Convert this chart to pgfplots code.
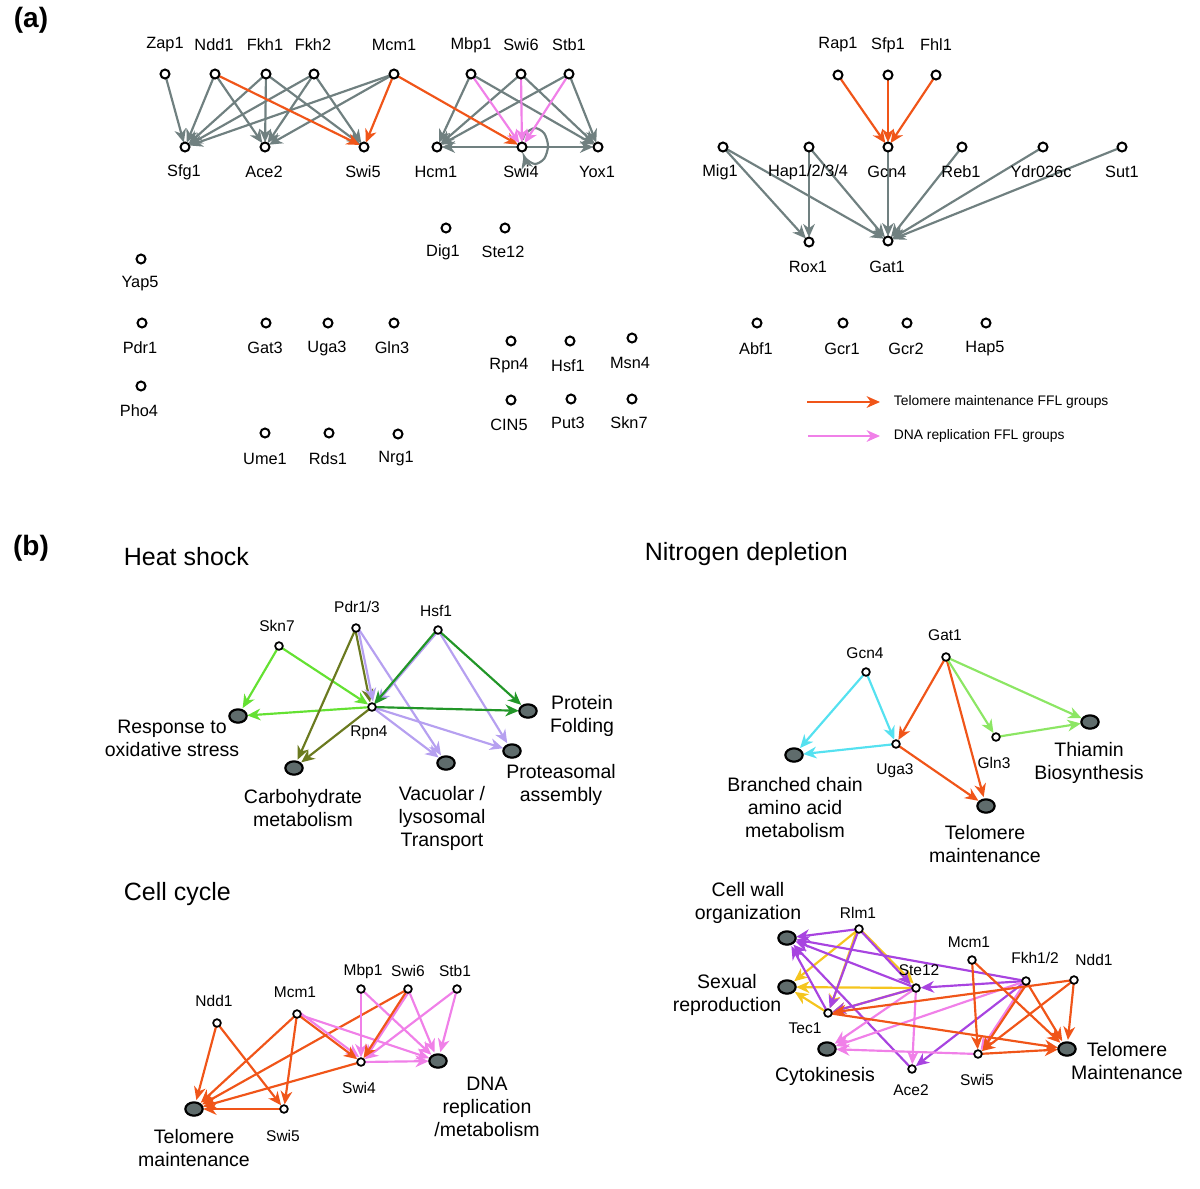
\documentclass[border=0pt]{standalone}
\usepackage{pgfplots}
\pgfplotsset{compat=1.18}
\usepackage{fontspec}
\setmainfont{Liberation Sans}
\usetikzlibrary{arrows.meta}
\definecolor{cG}{RGB}{112,128,128}
\definecolor{cO}{RGB}{240,85,25}
\definecolor{cP}{RGB}{240,128,232}
\definecolor{cLG}{RGB}{100,225,50}
\definecolor{cOL}{RGB}{107,122,32}
\definecolor{cLV}{RGB}{182,160,240}
\definecolor{cDG}{RGB}{34,150,40}
\definecolor{cCY}{RGB}{85,225,240}
\definecolor{cNG}{RGB}{140,230,100}
\definecolor{cPU}{RGB}{168,68,224}
\definecolor{cYE}{RGB}{245,197,30}
\definecolor{cTerm}{RGB}{95,108,108}
\pgfplotsset{ed/.style={line width=1.3pt,-{Stealth[length=8pt,width=7pt,inset=2.5pt]},shorten >=2.8pt,shorten <=1pt,mark=none}}
\newcommand{\E}[5]{\addplot[ed,#1] coordinates {(#2,#3) (#4,#5)};}
\newcommand{\T}[5]{\addplot[ed,shorten >=5.5pt,#1] coordinates {(#2,#3) (#4,#5)};}
\newcommand{\fa}{\fontsize{9.8}{11}\selectfont}
\newcommand{\fb}{\fontsize{9.3}{11}\selectfont}
\newcommand{\fc}{\fontsize{11.7}{13.8}\selectfont}
\newcommand{\ft}{\fontsize{15}{18}\selectfont}
\newcommand{\fl}{\fontsize{8.3}{10}\selectfont}
\newcommand{\LA}[3]{\node[font=\fa] at (axis cs:#1,#2) {#3};}
\newcommand{\LB}[3]{\node[font=\fb] at (axis cs:#1,#2) {#3};}
\newcommand{\LC}[3]{\node[font=\fc,align=center] at (axis cs:#1,#2) {#3};}
\begin{document}
\begin{tikzpicture}
\begin{axis}[scale only axis, width=720pt, height=712.8pt,
  xmin=0, xmax=1200, ymin=0, ymax=1188, y dir=reverse, hide axis, clip=false]
% ---------------- panel (a) left -----------------
\E{cG}{165}{74}{185}{147}
\E{cG}{215}{74}{185}{147}
\E{cG}{215}{74}{265}{147}
\E{cG}{266}{74}{185}{147}
\E{cG}{266}{74}{265}{147}
\E{cG}{266}{74}{364}{147}
\E{cG}{314}{74}{185}{147}
\E{cG}{314}{74}{265}{147}
\E{cG}{314}{74}{364}{147}
\E{cG}{394}{74}{185}{147}
\E{cG}{394}{74}{265}{147}
\E{cG}{471}{74}{437}{147}
\E{cG}{471}{74}{598}{147}
\E{cG}{521}{74}{437}{147}
\E{cG}{521}{74}{598}{147}
\E{cG}{569}{74}{437}{147}
\E{cG}{569}{74}{598}{147}
\E{cG}{522}{147}{437}{147}
\E{cG}{522}{147}{598}{147}
\addplot[ed,cG,smooth,shorten >=2pt] coordinates {(522.4,141.3) (525.8,133.3) (535,128) (544.2,133.3) (548,146) (544.2,158.7) (535,164) (525.8,158.7) (522.8,152.2)};
\E{cO}{215}{74}{364}{147}
\E{cO}{394}{74}{364}{147}
\E{cO}{394}{74}{522}{147}
\E{cP}{471}{74}{522}{147}
\E{cP}{521}{74}{522}{147}
\E{cP}{569}{74}{522}{147}
% ---------------- panel (a) right -----------------
\E{cO}{838}{75}{888}{147}
\E{cO}{888}{75}{888}{147}
\E{cO}{936}{75}{888}{147}
\E{cG}{723}{147}{809}{242}
\E{cG}{723}{147}{888}{241}
\E{cG}{809}{147}{809}{242}
\E{cG}{809}{147}{888}{241}
\E{cG}{888}{147}{888}{241}
\E{cG}{962}{147}{888}{241}
\E{cG}{1043}{147}{888}{241}
\E{cG}{1122}{147}{888}{241}
% legend
\addplot[line width=1.3pt,cO,-{Stealth[length=8pt,width=7pt,inset=2.5pt]}] coordinates {(807,402) (880,402)};
\addplot[line width=1.3pt,cP,-{Stealth[length=8pt,width=7pt,inset=2.5pt]}] coordinates {(808,436) (880,436)};
% ---------------- Heat shock -----------------
\T{cLG}{279}{646}{238}{716}
\E{cLG}{279}{646}{372}{707}
\T{cLG}{372}{707}{238}{716}
\T{cOL}{356}{628}{294}{768}
\E{cOL}{355}{628}{371}{707}
\T{cOL}{372}{707}{294}{768}
\E{cLV}{358}{628}{374}{706}
\T{cLV}{358}{628}{446}{763}
\T{cLV}{372}{707}{446}{763}
\E{cLV}{439}{630}{374}{706}
\T{cLV}{438}{630}{512}{751}
\T{cLV}{372}{707}{512}{751}
\T{cDG}{438}{630}{528}{711}
\E{cDG}{436}{631}{371}{708}
\T{cDG}{372}{707}{528}{711}
% ---------------- Nitrogen depletion -----------------
\T{cCY}{866}{672}{794}{755}
\E{cCY}{866}{672}{896}{744}
\T{cCY}{896}{744}{794}{755}
\E{cO}{946}{657}{896}{744}
\T{cO}{946}{657}{986}{806}
\T{cO}{896}{744}{986}{806}
\E{cNG}{946}{657}{996}{737}
\T{cNG}{946}{657}{1090}{722}
\T{cNG}{996}{737}{1090}{722}
% ---------------- Cell cycle -----------------
\T{cO}{217}{1023}{194}{1109}
\E{cO}{217}{1023}{284}{1109}
\T{cO}{297}{1014}{194}{1109}
\E{cO}{297}{1014}{284}{1109}
\T{cO}{408}{989}{194}{1109}
\T{cO}{361}{1062}{194}{1109}
\T{cO}{284}{1109}{194}{1109}
\E{cP}{299}{1012}{363}{1060}
\T{cP}{297}{1014}{438}{1061}
\E{cP}{361}{989}{361}{1062}
\T{cP}{361}{989}{438}{1061}
\E{cP}{410}{990}{363}{1062}
\T{cP}{408}{989}{438}{1061}
\E{cP}{457}{989}{361}{1062}
\T{cP}{457}{989}{438}{1061}
\T{cP}{361}{1062}{438}{1061}
\E{cO}{297}{1014}{361}{1062}
\E{cO}{408}{989}{361}{1062}
% ---------------- Cell wall etc. -----------------
\T{cYE}{859}{929}{787}{987}
\E{cYE}{861}{930}{917}{987}
\E{cYE}{857}{930}{829}{1012}
\T{cYE}{916}{988}{787}{987}
\E{cYE}{916}{988}{828}{1013}
\T{cYE}{828}{1013}{787}{987}
\T{cPU}{859}{929}{787}{938}
\E{cPU}{859}{929}{828}{1013}
\E{cPU}{859}{929}{914}{988}
\T{cPU}{828}{1013}{787}{938}
\T{cPU}{916}{988}{787}{938}
\E{cPU}{916}{988}{828}{1013}
\E{cPU}{1026}{981}{916}{988}
\T{cPU}{1026}{981}{787}{938}
\T{cPU}{912}{1069}{787}{938}
\E{cPU}{1026}{981}{912}{1069}
\T{cP}{916}{988}{827}{1049}
\E{cP}{916}{988}{912}{1069}
\T{cP}{1026}{981}{827}{1049}
\E{cP}{1026}{981}{978}{1054}
\T{cP}{978}{1054}{827}{1049}
\E{cO}{1074}{980}{828}{1013}
\T{cO}{828}{1013}{1067}{1049}
\E{cO}{972}{960}{978}{1054}
\T{cO}{972}{960}{1067}{1049}
\E{cO}{1028}{982}{980}{1054}
\T{cO}{1026}{981}{1067}{1049}
\E{cO}{1074}{980}{978}{1054}
\T{cO}{1074}{980}{1067}{1049}
\T{cO}{978}{1054}{1067}{1049}
% ---------------- nodes -----------------
\addplot[only marks, mark=*, mark size=2.7pt, mark options={draw=black,fill=white,line width=1.2pt}] coordinates {
(165,74) (215,74) (266,74) (314,74) (394,74) (471,74) (521,74) (569,74)
(185,147) (265,147) (364,147) (437,147) (522,147) (598,147)
(838,75) (888,75) (936,75)
(723,147) (809,147) (888,147) (962,147) (1043,147) (1122,147)
(809,242) (888,241)
(446,228) (505,228)
(141,259) (142,323) (141,386)
(266,323) (328,323) (394,323) (265,433) (329,433) (398,434)
(511,341) (570,341) (632,338) (511,400) (571,399) (632,399)
(757,323) (843,323) (907,323) (986,323)
};
\addplot[only marks, mark=*, mark size=2.3pt, mark options={draw=black,fill=white,line width=1.05pt}] coordinates {
(279,646) (356,628) (438,630) (372,707)
(866,672) (946,657) (896,744) (996,737)
(217,1023) (297,1014) (361,989) (408,989) (457,989) (361,1062) (284,1109)
(859,929) (916,988) (828,1013) (972,960) (1026,981) (1074,980) (912,1069) (978,1054)
};
\addplot[only marks, mark=*, mark size=4pt, mark options={draw=black,fill=cTerm,line width=1.3pt,xscale=1.3}] coordinates {
(238,716) (294,768) (446,763) (528,711) (512,751)
(794,755) (1090,722) (986,806)
(194,1109) (438,1061)
(787,938) (787,987) (827,1049) (1067,1049)
};
% ---------------- labels (a) -----------------
\node[font=\fontsize{16.8}{20}\selectfont\bfseries] at (axis cs:31,20) {(a)};
\node[font=\fontsize{16.8}{20}\selectfont\bfseries] at (axis cs:31,548) {(b)};
\LA{165}{45}{Zap1}\LA{214}{45}{Ndd1}\LA{265}{45}{Fkh1}\LA{313}{45}{Fkh2}
\LA{394}{45}{Mcm1}\LA{471}{45}{Mbp1}\LA{521}{45}{Swi6}\LA{569}{45}{Stb1}
\LA{184}{172}{Sfg1}\LA{264}{172}{Ace2}\LA{363}{172}{Swi5}\LA{436}{172}{Hcm1}\LA{521}{172}{Swi4}\LA{597}{172}{Yox1}
\LA{838}{45}{Rap1}\LA{888}{45}{Sfp1}\LA{936}{45}{Fhl1}
\LA{720}{172}{Mig1}\LA{808}{172}{Hap1/2/3/4}\LA{887}{172}{Gcn4}\LA{961}{172}{Reb1}\LA{1041}{172}{Ydr026c}\LA{1122}{172}{Sut1}
\LA{808}{267}{Rox1}\LA{887}{267}{Gat1}
\LA{443}{252}{Dig1}\LA{503}{252}{Ste12}
\LA{140}{284}{Yap5}\LA{140}{348}{Pdr1}\LA{139}{411}{Pho4}
\LA{265}{348}{Gat3}\LA{327}{348}{Uga3}\LA{392}{348}{Gln3}
\LA{265}{459}{Ume1}\LA{328}{459}{Rds1}\LA{396}{459}{Nrg1}
\LA{509}{366}{Rpn4}\LA{568}{366}{Hsf1}\LA{630}{363}{Msn4}
\LA{509}{425}{CIN5}\LA{568}{423}{Put3}\LA{629}{423}{Skn7}
\LA{756}{349}{Abf1}\LA{842}{349}{Gcr1}\LA{906}{349}{Gcr2}\LA{985}{349}{Hap5}
\node[font=\fl,anchor=west] at (axis cs:888,402) {Telomere maintenance FFL groups};
\node[font=\fl,anchor=west] at (axis cs:888,436) {DNA replication FFL groups};
% ---------------- labels (b) -----------------
\node[font=\ft,anchor=west] at (axis cs:118,557) {Heat shock};
\node[font=\ft,anchor=west] at (axis cs:639,554) {Nitrogen depletion};
\node[font=\ft,anchor=west] at (axis cs:118,894) {Cell cycle};
\LB{277}{626}{Skn7}\LB{357}{607}{Pdr1/3}\LB{436}{611}{Hsf1}\LB{369}{733}{Rpn4}
\LC{172}{738}{Response to\\oxidative stress}
\LC{303}{808}{Carbohydrate\\metabolism}
\LC{442}{818}{Vacuolar /\\lysosomal\\Transport}
\LC{582}{716}{Protein\\Folding}
\LC{561}{785}{Proteasomal\\assembly}
\LB{865}{653}{Gcn4}\LB{945}{635}{Gat1}\LB{895}{771}{Uga3}\LB{994}{763}{Gln3}
\LC{795}{808}{Branched chain\\amino acid\\metabolism}
\LC{1089}{763}{Thiamin\\Biosynthesis}
\LC{985}{844}{Telomere\\maintenance}
\LB{214}{1001}{Ndd1}\LB{295}{992}{Mcm1}\LB{363}{971}{Mbp1}\LB{408}{971}{Swi6}\LB{455}{971}{Stb1}
\LB{359}{1088}{Swi4}\LB{283}{1136}{Swi5}
\LC{194}{1148}{Telomere\\maintenance}
\LC{487}{1107}{DNA\\replication\\/metabolism}
\LB{858}{913}{Rlm1}\LB{919}{970}{Ste12}\LB{805}{1028}{Tec1}\LB{969}{942}{Mcm1}
\LB{1035}{958}{Fkh1/2}\LB{1094}{960}{Ndd1}\LB{911}{1090}{Ace2}\LB{977}{1080}{Swi5}
\LC{748}{903}{Cell wall\\organization}
\LC{727}{995}{Sexual\\reproduction}
\LC{825}{1076}{Cytokinesis}
\LC{1127}{1061}{Telomere\\Maintenance}
\path (rel axis cs:0,0) rectangle (rel axis cs:1,1);
\end{axis}
\end{tikzpicture}
\end{document}
